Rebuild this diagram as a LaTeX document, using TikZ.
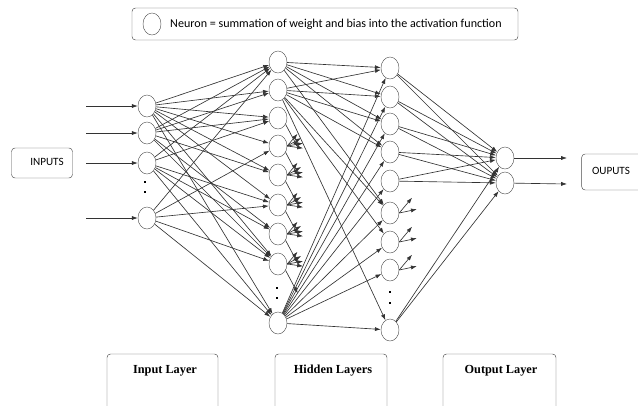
\documentclass[tikz,border=0pt]{standalone}
\usepackage{fontspec}
\setmainfont{Liberation Serif}
\newfontfamily\calfont{Carlito}
\usetikzlibrary{shapes.geometric,arrows.meta,positioning}

\begin{document}
\begin{tikzpicture}[x=0.3mm,y=-0.3mm,
		neuron/.style={ellipse,draw=black!65,minimum width=5.4mm,minimum height=6.6mm,inner sep=0pt},
		conn/.style={draw=black!80,line width=0.55pt,-{Latex[length=5pt,width=3.5pt]}},
		rbox/.style={draw=black!70,rounded corners=3pt,inner sep=0pt},
		lbl/.style={font=\calfont\fontsize{9.5}{11}\selectfont,inner sep=0pt},
		layertxt/.style={font=\bfseries\fontsize{10.5}{12}\selectfont,inner sep=0pt},
		vdot/.style={fill=black,inner sep=0pt,minimum size=2.2pt}]
		\useasboundingbox (0,0) rectangle (638,405);
		\clip (0,0) rectangle (638,405);
		
		\node[rbox,minimum width=115.8mm,minimum height=9.6mm] (legend) at (325,24) {};
		\node[neuron] (lgcirc) at (152,24) {};
		\node[lbl,font=\calfont\fontsize{10.3}{12}\selectfont,anchor=west] (lgtext) at (170,24) {Neuron = summation of weight and bias into the activation function};
		
		\node[rbox,minimum width=18.3mm,minimum height=9mm] (inbox) at (42,163) {};
		\node[lbl] (intext) at (47,162) {INPUTS};
		\node[rbox,minimum width=20mm,minimum height=10.8mm] (outbox) at (615,172) {};
		\node[lbl] (outtext) at (611,171) {OUPUTS};
		
		\foreach \n/\y in {1/106,2/133,3/163,4/218}{
			\node[neuron] (in\n) at (147,\y) {};
			\coordinate (x\n) at (86,\y);
			\draw[conn] (x\n) -- (in\n);
		}
		\foreach \n/\y in {1/62,2/90,3/118,4/146,5/175,6/205,7/234,8/264,9/323}
			\node[neuron] (ha\n) at (278,\y) {};
		\foreach \n/\y in {1/68,2/97,3/124,4/152,5/181,6/213,7/242,8/270,9/330}
			\node[neuron] (hb\n) at (390,\y) {};
		\node[neuron] (out1) at (505,158) {};
		\node[neuron] (out2) at (505,183) {};
		
		\node[vdot] (da1) at (145,182) {};
		\node[vdot] (da2) at (145,192) {};
		\node[vdot] (db1) at (277,288) {};
		\node[vdot] (db2) at (277,298) {};
		\node[vdot] (dc1) at (390,292) {};
		\node[vdot] (dc2) at (390,303) {};
		
		\foreach \s/\t in {1/1,1/2,1/3,1/4,1/5,1/6,1/8,1/9,2/1,2/2,2/3,2/5,2/7,2/8,3/1,3/3,3/6,3/7,3/8,3/9,4/1,4/4,4/6,4/8,4/9}
			\draw[conn] (in\s) -- (ha\t);
		
		\foreach \n in {4,...,8}
			\foreach \a in {-50,-30,-10,8}
				\draw[conn] (ha\n.east) -- ++(\a:16);
		\foreach \n in {3,...,8}
			\draw[conn] (ha\n.-40) -- ++(62:26);
		
		\foreach \s/\t in {1/1,1/2,1/3,1/4,1/6,2/1,2/2,2/3,2/4,2/6,2/7,2/9,9/1,9/2,9/3,9/4,9/5,9/6,9/7,9/8,9/9}
			\draw[conn] (ha\s) -- (hb\t);
		
		\foreach \n in {6,7,8}{
			\draw[conn] (hb\n.east) -- ++(-50:20);
			\draw[conn] (hb\n.east) -- ++(-12:18);
		}
		
		\foreach \s in {1,2,3,4,5,9}{
			\draw[conn] (hb\s) -- (out1);
			\draw[conn] (hb\s) -- (out2);
		}
		
		\coordinate (y1) at (567,158);
		\coordinate (y2) at (567,184);
		\draw[conn] (out1) -- (y1);
		\draw[conn] (out2) -- (y2);
		
		\node[rbox,minimum width=33.3mm,minimum height=21mm] (inlayer) at (162.5,389) {};
		\node[rbox,minimum width=33.6mm,minimum height=21mm] (hidlayer) at (331,389) {};
		\node[rbox,minimum width=33.9mm,minimum height=21mm] (outlayer) at (499.5,389) {};
		\node[layertxt] (inltxt) at (165,371) {Input Layer};
		\node[layertxt] (hidltxt) at (333,371) {Hidden Layers};
		\node[layertxt] (outltxt) at (501,371) {Output Layer};
		
\end{tikzpicture}
\end{document}
